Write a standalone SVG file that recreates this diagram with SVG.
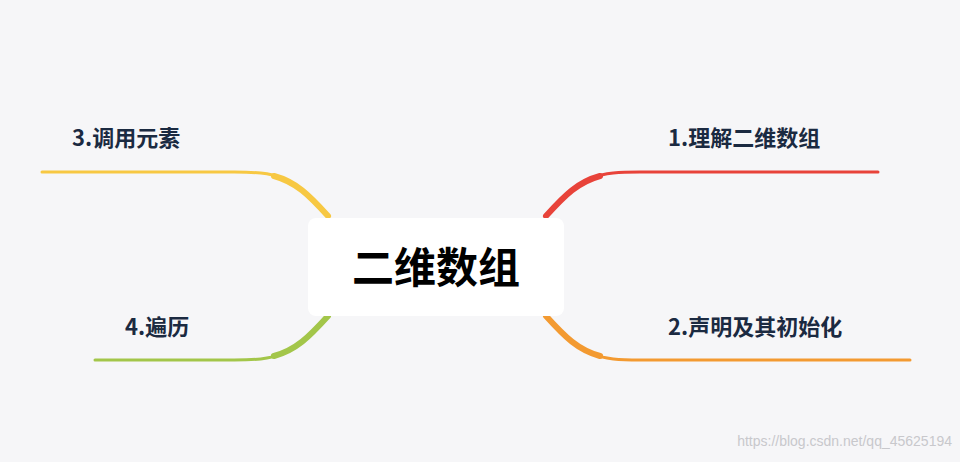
<svg xmlns="http://www.w3.org/2000/svg" width="960" height="462" viewBox="0 0 960 462">
<style>
.lbl{font-family:"Noto Sans CJK SC","Noto Sans",sans-serif;font-weight:bold;font-size:22px;fill:#1b2a41}
.br{fill:none;stroke-linecap:round}
</style>
<rect width="960" height="462" fill="#f6f6f8"/>
<g id="connectors">
<path class="br" d="M548,214 C580,175 600,172 640,172 L878,172" stroke="#e8433a" stroke-width="3"/>
<path class="br" d="M546,216 C565,195 578,182 600,176" stroke="#e8433a" stroke-width="6"/>
<path class="br" d="M548,318 C580,357 600,360 640,360 L910,360" stroke="#f39a31" stroke-width="3"/>
<path class="br" d="M546,316 C565,337 578,350 600,356" stroke="#f39a31" stroke-width="6"/>
<path class="br" d="M326,214 C294,175 274,172 234,172 L42,172" stroke="#f7c843" stroke-width="3"/>
<path class="br" d="M328,216 C309,195 296,182 274,176" stroke="#f7c843" stroke-width="6"/>
<path class="br" d="M326,318 C294,357 274,360 234,360 L95,360" stroke="#a3c64a" stroke-width="3"/>
<path class="br" d="M328,316 C309,337 296,350 274,356" stroke="#a3c64a" stroke-width="6"/>
</g>
<g id="center">
<rect x="308" y="218" width="256" height="98" rx="8" fill="#ffffff"/>
<text x="436" y="283" text-anchor="middle" font-family="Noto Sans CJK SC,sans-serif" font-weight="bold" font-size="42" fill="#000">二维数组</text>
</g>
<g id="n1"><text class="lbl" x="668" y="146">1.理解二维数组</text></g>
<g id="n2"><text class="lbl" x="668" y="335">2.声明及其初始化</text></g>
<g id="n3"><text class="lbl" x="72" y="146">3.调用元素</text></g>
<g id="n4"><text class="lbl" x="125" y="335">4.遍历</text></g>
<text x="952" y="446" text-anchor="end" font-family="Liberation Sans,sans-serif" font-size="14" fill="#c8c8cc">https://blog.csdn.net/qq_45625194</text>
</svg>
